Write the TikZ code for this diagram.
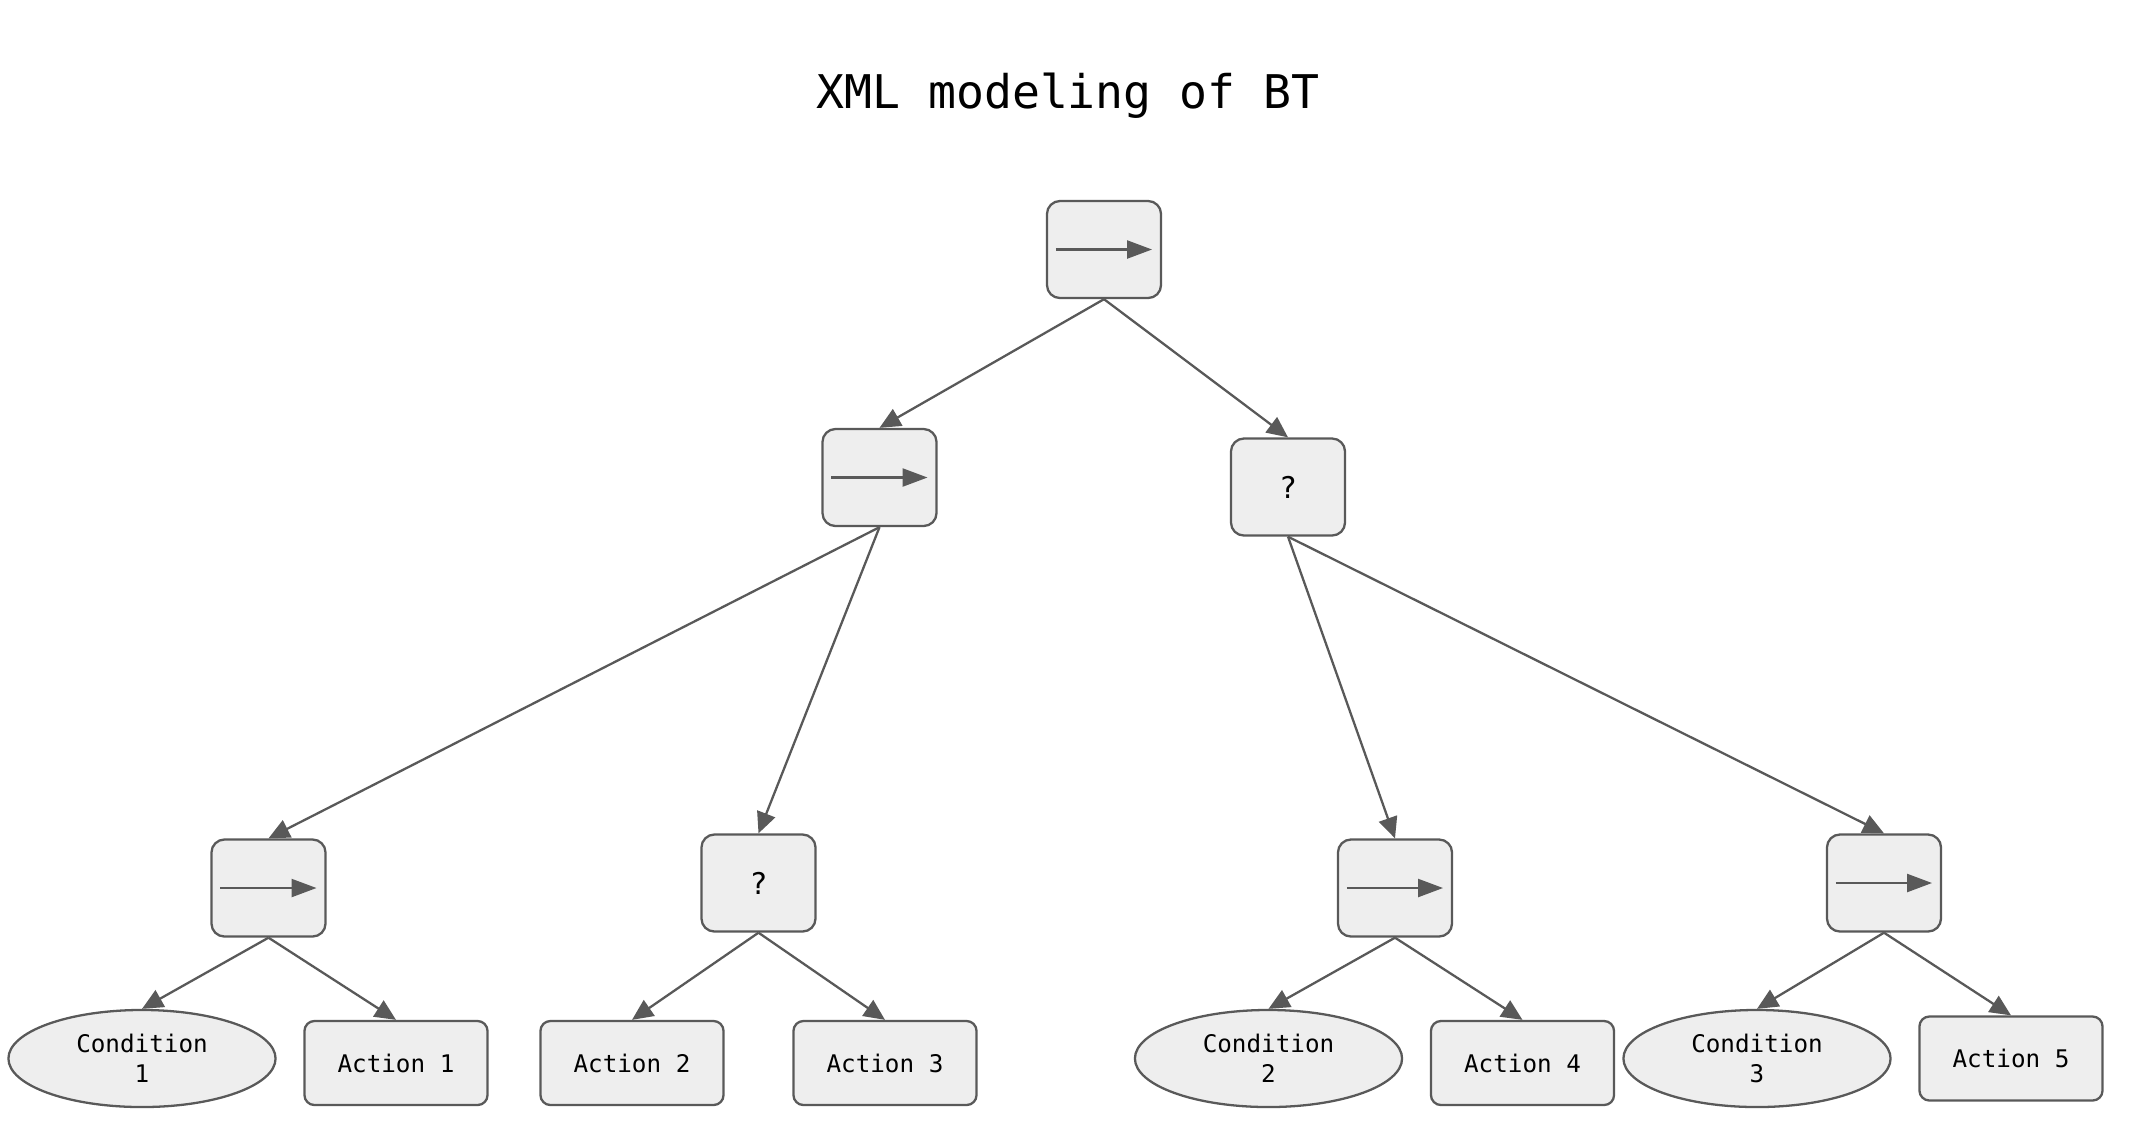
\documentclass[tikz,border=0pt]{standalone}
\usepackage{fontspec}
\newfontfamily\btfont{DejaVu Sans Mono}
\usetikzlibrary{arrows.meta,shapes.geometric}
\definecolor{btline}{HTML}{595959}
\definecolor{btfill}{HTML}{EEEEEE}

\begin{document}
\begin{tikzpicture}[x=0.01cm, y=-0.01cm, line width=0.65pt, draw=btline,
  >={Triangle[length=0.21cm,width=0.19cm]},
  ctrl/.style={draw=btline, fill=btfill, rounded corners=0.13cm, minimum width=1.14cm, minimum height=0.97cm, inner sep=0pt, font=\btfont\fontsize{8.5}{10}\selectfont},
  seq/.style={ctrl, path picture={\draw[btline,-{Triangle[length=0.25cm,width=0.18cm]}] ([xshift=-0.48cm]path picture bounding box.center) -- ([xshift=0.48cm]path picture bounding box.center);}},
  act/.style={draw=btline, fill=btfill, rounded corners=0.1cm, minimum width=1.83cm, minimum height=0.84cm, inner sep=0pt, font=\btfont\fontsize{6.9}{8.5}\selectfont},
  cond/.style={ellipse, draw=btline, fill=btfill, minimum width=2.67cm, minimum height=0.97cm, inner sep=0pt, align=center, font=\btfont\fontsize{6.9}{8.5}\selectfont}]
\useasboundingbox (0,0) rectangle (2132,1138);
\node[anchor=base, font=\btfont\fontsize{13.2}{15}\selectfont] (title) at (1068,108) {XML modeling of BT};
% control nodes
\node[seq] (root) at (1104,249.5) {};
\node[seq] (seqL) at (879.5,477.5) {};
\node[ctrl] (selR) at (1288,487) {?};
\node[seq] (seq1) at (268.5,888) {};
\node[ctrl] (sel2) at (758.5,883) {?};
\node[seq] (seq3) at (1395,888) {};
\node[seq] (seq4) at (1884,883) {};
% leaves
\node[cond] (cond1) at (142,1058.5) {Condition\\1};
\node[act] (act1) at (396,1063) {Action 1};
\node[act] (act2) at (632,1063) {Action 2};
\node[act] (act3) at (885,1063) {Action 3};
\node[cond] (cond2) at (1268.5,1058.5) {Condition\\2};
\node[act] (act4) at (1522.5,1063) {Action 4};
\node[cond] (cond3) at (1757,1058.5) {Condition\\3};
\node[act] (act5) at (2011,1058.5) {Action 5};
% edges
\draw[->] (root.south) -- (seqL.north);
\draw[->] (root.south) -- (selR.north);
\draw[->] (seqL.south) -- (seq1.north);
\draw[->] (seqL.south) -- (sel2.north);
\draw[->] (selR.south) -- (seq3.north);
\draw[->] (selR.south) -- (seq4.north);
\draw[->] (seq1.south) -- (cond1.north);
\draw[->] (seq1.south) -- (act1.north);
\draw[->] (sel2.south) -- (act2.north);
\draw[->] (sel2.south) -- (act3.north);
\draw[->] (seq3.south) -- (cond2.north);
\draw[->] (seq3.south) -- (act4.north);
\draw[->] (seq4.south) -- (cond3.north);
\draw[->] (seq4.south) -- (act5.north);
\end{tikzpicture}
\end{document}
